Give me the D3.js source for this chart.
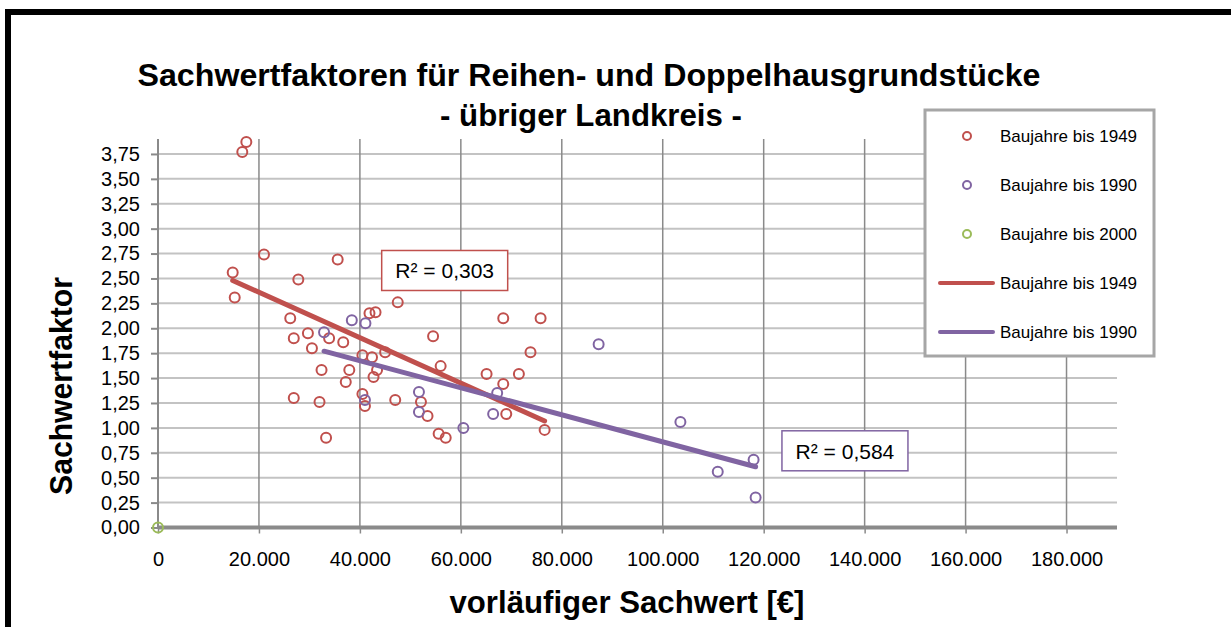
<html>
<head>
<meta charset="utf-8">
<script src="https://cdn.jsdelivr.net/npm/d3@7"></script>
<style>
body {
  margin: 0px;
  background-color: #ffffff;
}
.tick text {
  font: 20px "Liberation Sans", sans-serif;
  fill: #000000;
}
.title text {
  font: bold 31px "Liberation Sans", sans-serif;
  fill: #000000;
  text-anchor: middle;
}
.legend text {
  font: 17px "Liberation Sans", sans-serif;
  fill: #000000;
}
.r2 text {
  font: 21px "Liberation Sans", sans-serif;
  fill: #000000;
  text-anchor: middle;
}
</style>
</head>
<body>
<div class="target"></div>
<script>
// Baujahre bis 1949
var x1949 = [17500, 16700, 14800, 15200, 21000, 27800, 35600, 26200, 29700, 26900,
             33900, 36700, 30500, 32400, 37900, 37200, 26900, 32000, 33300, 40500,
             42400, 45000, 43400, 42700, 47500, 41900, 43100, 40500, 41000, 47000,
             54500, 56000, 52100, 53400, 55600, 57000, 68400, 75800, 73800, 65100,
             71500, 68400, 69000, 76600];
var y1949 = [3.87, 3.77, 2.56, 2.31, 2.74, 2.49, 2.69, 2.10, 1.95, 1.90,
             1.90, 1.86, 1.80, 1.58, 1.58, 1.46, 1.30, 1.26, 0.90, 1.73,
             1.71, 1.76, 1.58, 1.51, 2.26, 2.15, 2.16, 1.34, 1.22, 1.28,
             1.92, 1.62, 1.26, 1.12, 0.94, 0.90, 2.10, 2.10, 1.76, 1.54,
             1.54, 1.44, 1.14, 0.98];
// Baujahre bis 1990
var x1990 = [32900, 38400, 41100, 41000, 51700, 51700, 60500, 67200, 66400, 87300,
             103500, 110900, 118000, 118400];
var y1990 = [1.96, 2.08, 2.05, 1.28, 1.36, 1.16, 1.00, 1.35, 1.14, 1.84,
             1.06, 0.56, 0.68, 0.30];
// Baujahre bis 2000
var x2000 = [0];
var y2000 = [0];

// linear trendlines (start / end)
var trendX1949 = [14800, 76600];
var trendY1949 = [2.48, 1.07];
var trendX1990 = [32900, 118400];
var trendY1990 = [1.77, 0.61];

var xTicks = [0, 20000, 40000, 60000, 80000, 100000, 120000, 140000, 160000, 180000];
var yTicks = [0, 0.25, 0.5, 0.75, 1, 1.25, 1.5, 1.75, 2, 2.25, 2.5, 2.75, 3, 3.25, 3.5, 3.75];

var legendLabels = ["Baujahre bis 1949", "Baujahre bis 1990", "Baujahre bis 2000", "Baujahre bis 1949", "Baujahre bis 1990"];
var legendKinds = ["point", "point", "point", "line", "line"];

var r2Labels = ["R² = 0,303", "R² = 0,584"];
var r2X = [56800, 136100];
var r2Y = [2.58, 0.77];

var colors = {c1949: "#c0504d", c1990: "#8064a2", c2000: "#9bbb59"};
var legendColors = [colors.c1949, colors.c1990, colors.c2000, colors.c1949, colors.c1990];

drawChart('.target');

function drawChart(target) {
  'use strict';

  var W = 1231, H = 627;
  var plot = {left: 158, top: 139, right: 1117, bottom: 527.5};

  var locale = d3.formatLocale({decimal: ",", thousands: ".", grouping: [3], currency: ["", "€"]});

  var svg = d3.select(target).append("svg")
    .attr("width", W)
    .attr("height", H);

  var x = d3.scaleLinear().domain([0, 190000]).range([plot.left, plot.right]);
  var y = d3.scaleLinear().domain([0, 3.9]).range([plot.bottom, plot.top]);

  // frame
  svg.append("rect")
    .attr("x", 8).attr("y", 12)
    .attr("width", 1226).attr("height", 640)
    .attr("fill", "none")
    .attr("stroke", "#000000")
    .attr("stroke-width", 6);

  // horizontal gridlines
  svg.append("g").selectAll("line")
    .data(yTicks.filter(function(d){ return d > 0; }))
    .enter().append("line")
      .attr("x1", plot.left).attr("x2", plot.right)
      .attr("y1", function(d){ return y(d); })
      .attr("y2", function(d){ return y(d); })
      .attr("stroke", "#c3c3c3")
      .attr("stroke-width", 2);

  // vertical gridlines
  svg.append("g").selectAll("line")
    .data(xTicks.filter(function(d){ return d > 0; }))
    .enter().append("line")
      .attr("x1", function(d){ return x(d); })
      .attr("x2", function(d){ return x(d); })
      .attr("y1", plot.top).attr("y2", plot.bottom)
      .attr("stroke", "#8a8a8a")
      .attr("stroke-width", 1.5);

  // axes
  var yAxis = d3.axisLeft(y)
    .tickValues(yTicks)
    .tickSize(7)
    .tickPadding(11)
    .tickFormat(locale.format(".2f"));
  var gy = svg.append("g")
    .attr("transform", "translate(" + plot.left + ",0)")
    .call(yAxis);
  gy.select(".domain").remove();
  gy.selectAll(".tick line").attr("stroke", "#8a8a8a").attr("stroke-width", 2);
  gy.append("line")
    .attr("x1", 0).attr("x2", 0)
    .attr("y1", plot.top).attr("y2", plot.bottom)
    .attr("stroke", "#8a8a8a").attr("stroke-width", 2);

  var xAxis = d3.axisBottom(x)
    .tickValues(xTicks)
    .tickSize(6)
    .tickPadding(18)
    .tickFormat(locale.format(",d"));
  var gx = svg.append("g")
    .attr("transform", "translate(0," + plot.bottom + ")")
    .call(xAxis);
  gx.select(".domain").remove();
  gx.selectAll(".tick line").attr("stroke", "#8a8a8a").attr("stroke-width", 1.5);
  gx.append("line")
    .attr("x1", plot.left).attr("x2", plot.right)
    .attr("y1", 0).attr("y2", 0)
    .attr("stroke", "#8a8a8a").attr("stroke-width", 4);

  // points
  appendPoints(x1949, y1949, colors.c1949);
  appendPoints(x1990, y1990, colors.c1990);
  appendPoints(x2000, y2000, colors.c2000);

  // trendlines
  appendTrend(trendX1949, trendY1949, colors.c1949);
  appendTrend(trendX1990, trendY1990, colors.c1990);

  // R² labels
  appendR2(0, colors.c1949);
  appendR2(1, colors.c1990);

  // titles
  appendTitle("Sachwertfaktoren für Reihen- und Doppelhausgrundstücke", 589, 86, 903, null);
  appendTitle("- übriger Landkreis -", 591, 126, 302, null);
  appendTitle("vorläufiger Sachwert [€]", 627, 613, 355, null);
  appendTitle("Sachwertfaktor", 72, 386, 218, "rotate(-90,72,386)");

  // legend
  var lg = svg.append("g").attr("class", "legend");
  lg.append("rect")
    .attr("x", 925).attr("y", 110)
    .attr("width", 229).attr("height", 246)
    .attr("fill", "#ffffff")
    .attr("stroke", "#a6a6a6")
    .attr("stroke-width", 3);
  legendLabels.forEach(function(lab, i) {
    var cy = 136 + i * 49;
    if (legendKinds[i] === "point") {
      lg.append("circle")
        .attr("cx", 967).attr("cy", cy).attr("r", 4)
        .attr("fill", "#ffffff")
        .attr("stroke", legendColors[i])
        .attr("stroke-width", 2);
    } else {
      lg.append("line")
        .attr("x1", 940).attr("x2", 993)
        .attr("y1", cy).attr("y2", cy)
        .attr("stroke", legendColors[i])
        .attr("stroke-width", 4)
        .attr("stroke-linecap", "round");
    }
    lg.append("text")
      .attr("x", 1000).attr("y", cy + 6)
      .text(lab);
  });

  function appendPoints(xs, ys, color) {
    svg.append("g").selectAll("circle")
      .data(xs.map(function(v, i){ return [v, ys[i]]; }))
      .enter().append("circle")
        .attr("cx", function(d){ return x(d[0]); })
        .attr("cy", function(d){ return y(d[1]); })
        .attr("r", 5)
        .attr("fill", "none")
        .attr("stroke", color)
        .attr("stroke-width", 2);
  }

  function appendTrend(xs, ys, color) {
    svg.append("line")
      .attr("x1", x(xs[0])).attr("y1", y(ys[0]))
      .attr("x2", x(xs[1])).attr("y2", y(ys[1]))
      .attr("stroke", color)
      .attr("stroke-width", 5)
      .attr("stroke-linecap", "round");
  }

  function appendR2(i, color) {
    var g = svg.append("g").attr("class", "r2");
    var cx = x(r2X[i]), cy = y(r2Y[i]);
    g.append("rect")
      .attr("x", cx - 63).attr("y", cy - 20)
      .attr("width", 126).attr("height", 40)
      .attr("fill", "#ffffff")
      .attr("stroke", color)
      .attr("stroke-width", 1.5);
    g.append("text")
      .attr("x", cx).attr("y", cy + 8)
      .text(r2Labels[i]);
  }

  function appendTitle(txt, tx, ty, len, transform) {
    var t = svg.append("g").attr("class", "title")
      .append("text")
        .attr("x", tx).attr("y", ty)
        .attr("textLength", len)
        .attr("lengthAdjust", "spacingAndGlyphs")
        .text(txt);
    if (transform) t.attr("transform", transform);
  }
}
</script>
</body>
</html>
